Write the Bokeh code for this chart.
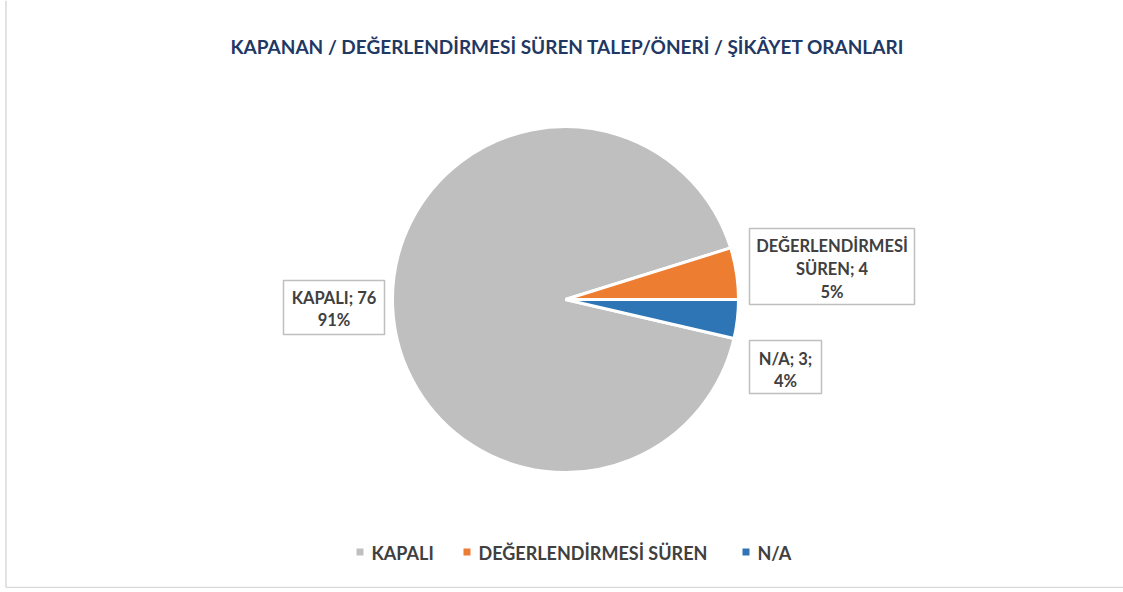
import math
from bokeh.plotting import figure
from bokeh.models import Range1d
from bokeh.core.properties import value
from bokeh.embed import file_html
from bokeh.resources import INLINE

# ---- data ----
title = "KAPANAN / DEĞERLENDİRMESİ SÜREN TALEP/ÖNERİ / ŞİKÂYET ORANLARI"
categories = ["KAPALI", "DEĞERLENDİRMESİ SÜREN", "N/A"]
counts = [76, 4, 3]
percent_labels = ["91%", "5%", "4%"]
label_lines = [["KAPALI; 76", "91%"],
               ["DEĞERLENDİRMESİ", "SÜREN; 4", "5%"],
               ["N/A; 3;", "4%"]]
colors = ["#BFBFBF", "#ED7D31", "#2E75B6"]

W, H = 1123, 588
FONT = value("Lato")
TXT = "#404040"

def X(px):
    return px

def Y(py):
    return H - py

p = figure(width=W, height=H, output_backend="svg", toolbar_location=None,
           x_range=Range1d(0, W), y_range=Range1d(0, H), min_border=0)
p.axis.visible = False
p.grid.visible = False
p.outline_line_color = None
p.background_fill_color = "white"
p.border_fill_color = "white"

# chart frame (left and bottom visible)
p.segment(x0=[X(5.5), X(5.5)], y0=[H, Y(587)], x1=[X(5.5), W], y1=[Y(587), Y(587)],
          line_color="#D9D9D9", line_width=1.5)

# title
p.text(x=[X(567)], y=[Y(46)], text=[title], text_font=FONT, text_font_style="bold",
       text_font_size="19px", text_color="#1F3864", text_align="center",
       text_baseline="middle")

# pie
total = sum(counts)
cum = [0]
for c in counts:
    cum.append(cum[-1] + c)
theta0 = 2 * math.pi * cum[2] / total  # rotation so slice 2/3 boundary is horizontal
starts = [theta0 - 2 * math.pi * cum[i + 1] / total for i in range(len(counts))]
ends = [theta0 - 2 * math.pi * cum[i] / total for i in range(len(counts))]
cx, cy, r = X(565), Y(299), 173
p.wedge(x=[cx] * 3, y=[cy] * 3, radius=r, start_angle=starts, end_angle=ends,
        direction="anticlock", fill_color=colors, line_color="white", line_width=3)

# data label boxes
boxes = [(283, 280, 384, 334), (749, 228, 914, 304), (749, 340, 821, 393)]
line_ys = [[297, 319], [245, 268, 291], [358, 380]]
for (x0, y0, x1, y1), lines, ys in zip(boxes, label_lines, line_ys):
    p.quad(left=[X(x0)], right=[X(x1)], top=[Y(y0)], bottom=[Y(y1)],
           fill_color="white", line_color="#BFBFBF", line_width=1.5)
    xc = (x0 + x1) / 2
    p.text(x=[X(xc)] * len(lines), y=[Y(v) for v in ys], text=lines,
           text_font=FONT, text_font_style="bold", text_font_size="16.5px",
           text_color=TXT, text_align="center", text_baseline="middle")

# legend
sq_x = [359.5, 466.5, 745.5]
tx_x = [371, 478, 757]
ly = 551.5
p.rect(x=[X(v) for v in sq_x], y=[Y(ly)] * 3, width=7, height=7,
       fill_color=colors, line_color=None)
p.text(x=[X(v) for v in tx_x], y=[Y(ly + 0.5)] * 3, text=categories,
       text_font=FONT, text_font_style="bold", text_font_size="18px",
       text_color=TXT, text_align="left", text_baseline="middle")

open("out.html", "w").write(file_html(p, INLINE))
